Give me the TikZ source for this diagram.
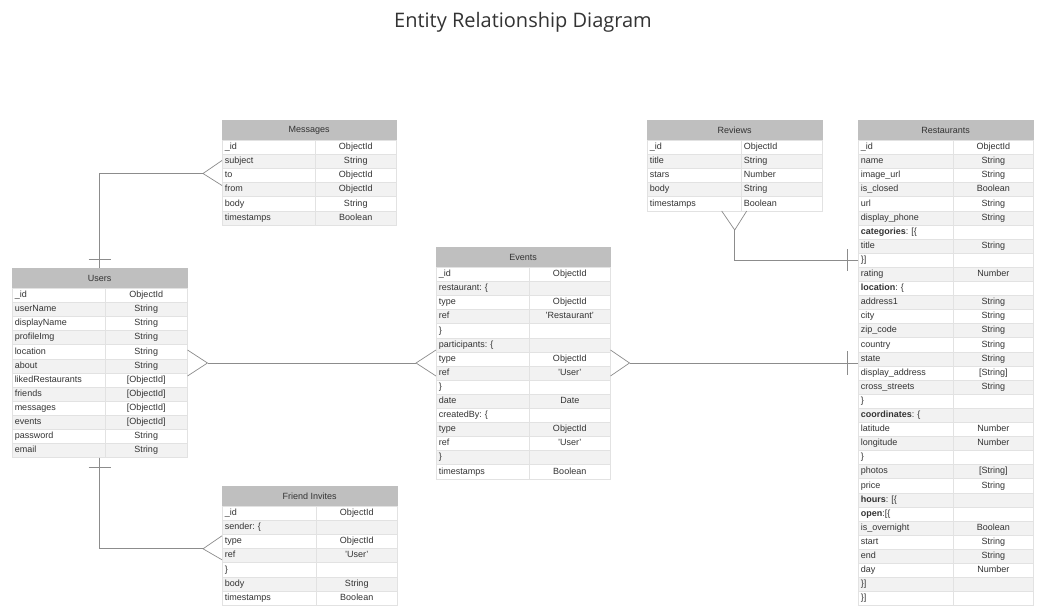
\documentclass[tikz,border=0pt]{standalone}
\usepackage{fontspec}
\setmainfont{Liberation Sans}
\newfontfamily\titlefont{Open Sans}
\usetikzlibrary{calc}
\frenchspacing
\definecolor{hdrgray}{HTML}{BFBFBF}
\definecolor{rowgray}{HTML}{F2F2F2}
\definecolor{cellline}{HTML}{E2E2E2}
\definecolor{txt}{HTML}{333333}
\definecolor{connc}{HTML}{8C8C8C}
\newcount\errow
\def\erH{14.1}
\tikzset{
 hdr/.style={fill=hdrgray, draw=hdrgray, minimum height=20pt, inner sep=0pt, font=\fontsize{9}{10}\selectfont, text=txt},
 cell/.style={draw=cellline, line width=0.5pt, minimum height=\erH pt, inner xsep=2.5pt, inner ysep=0pt, text height=6.6pt, text depth=1.9pt, font=\fontsize{9}{10}\selectfont, text=txt},
 conn/.style={draw=connc, line width=0.7pt},
}
\newcommand{\ertable}[6]{%
  \gdef\erN{#1}\gdef\erX{#2}\gdef\erY{#3}\gdef\erW{#4}\gdef\erC{#5}\global\errow=0
  \node[hdr, minimum width=#4pt, anchor=north west] (#1) at (#2,#3) {#6};}
\newcommand{\erow}[3][center]{%
  \global\advance\errow by 1
  \pgfmathsetmacro\erRY{\erY+20+(\the\errow-1)*\erH}
  \pgfmathsetmacro\erNW{\erC-5}
  \pgfmathsetmacro\erTW{\erW-\erC}
  \pgfmathsetmacro\erTT{\erW-\erC-5}
  \pgfmathsetmacro\erXX{\erX+\erC}
  \ifodd\errow\def\erF{white}\else\def\erF{rowgray}\fi
  \edef\erRN{\erN r\the\errow}\edef\erRT{\erN t\the\errow}
  \node[cell, fill=\erF, minimum width=\erC pt, text width=\erNW pt, align=left, anchor=north west] (\erRN) at (\erX,\erRY) {#2};
  \node[cell, fill=\erF, minimum width=\erTW pt, text width=\erTT pt, align=#1, anchor=north west] (\erRT) at (\erXX,\erRY) {#3};
}
\begin{document}
\begin{tikzpicture}[x=1pt,y=-1pt]
\fill[white] (0,0) rectangle (1046,615);
\useasboundingbox (0,0) rectangle (1046,615);
\node[font=\titlefont\fontsize{20}{24}\selectfont, text=txt] (title) at (523,22) {Entity Relationship Diagram};

% Messages
\ertable{msg}{222}{120}{174}{93}{Messages}
\erow{\_id}{ObjectId}
\erow{subject}{String}
\erow{to}{ObjectId}
\erow{from}{ObjectId}
\erow{body}{String}
\erow{timestamps}{Boolean}

% Users
\ertable{users}{12}{268}{175}{93}{Users}
\erow{\_id}{ObjectId}
\erow{userName}{String}
\erow{displayName}{String}
\erow{profileImg}{String}
\erow{location}{String}
\erow{about}{String}
\erow{likedRestaurants}{[ObjectId]}
\erow{friends}{[ObjectId]}
\erow{messages}{[ObjectId]}
\erow{events}{[ObjectId]}
\erow{password}{String}
\erow{email}{String}

% Events
\ertable{events}{436}{247}{174}{93}{Events}
\erow{\_id}{ObjectId}
\erow{restaurant: \{}{}
\erow{type}{ObjectId}
\erow{ref}{'Restaurant'}
\erow{\}}{}
\erow{participants: \{}{}
\erow{type}{ObjectId}
\erow{ref}{'User'}
\erow{\}}{}
\erow{date}{Date}
\erow{createdBy: \{}{}
\erow{type}{ObjectId}
\erow{ref}{'User'}
\erow{\}}{}
\erow{timestamps}{Boolean}

% Reviews
\ertable{reviews}{647}{120}{175}{94}{Reviews}
\erow[left]{\_id}{ObjectId}
\erow[left]{title}{String}
\erow[left]{stars}{Number}
\erow[left]{body}{String}
\erow[left]{timestamps}{Boolean}

% Restaurants
\ertable{rest}{858}{120}{175}{95}{Restaurants}
\erow{\_id}{ObjectId}
\erow{name}{String}
\erow{image\_url}{String}
\erow{is\_closed}{Boolean}
\erow{url}{String}
\erow{display\_phone}{String}
\erow{\textbf{categories}: [\{}{}
\erow{title}{String}
\erow{\}]}{}
\erow{rating}{Number}
\erow{\textbf{location}: \{}{}
\erow{address1}{String}
\erow{city}{String}
\erow{zip\_code}{String}
\erow{country}{String}
\erow{state}{String}
\erow{display\_address}{[String]}
\erow{cross\_streets}{String}
\erow{\}}{}
\erow{\textbf{coordinates}: \{}{}
\erow{latitude}{Number}
\erow{longitude}{Number}
\erow{\}}{}
\erow{photos}{[String]}
\erow{price}{String}
\erow{\textbf{hours}: [\{}{}
\erow{\textbf{open}:[\{}{}
\erow{is\_overnight}{Boolean}
\erow{start}{String}
\erow{end}{String}
\erow{day}{Number}
\erow{\}]}{}
\erow{\}]}{}

% Friend Invites
\ertable{fi}{222}{486}{175}{94}{Friend Invites}
\erow{\_id}{ObjectId}
\erow{sender: \{}{}
\erow{type}{ObjectId}
\erow{ref}{'User'}
\erow{\}}{}
\erow{body}{String}
\erow{timestamps}{Boolean}

% Users - Messages
\coordinate (mtip) at ($(msgr3.west)+(-19,-2)$);
\draw[conn] (users.north) |- (mtip);
\draw[conn] ($(msgr3.west)+(0,-15)$) -- (mtip) -- ($(msgr3.west)+(0,10)$);
\draw[conn] ($(users.north)+(-11,-9)$) -- ++(22,0);

% Users - Events
\coordinate (ue1) at (userst6.east |- 0,363);
\coordinate (uetip) at ($(ue1)+(20,0)$);
\coordinate (eu1) at (eventsr7.west |- 0,363);
\coordinate (eutip) at ($(eu1)+(-20,0)$);
\draw[conn] ($(ue1)+(0,-13)$) -- (uetip) -- ($(ue1)+(0,13)$);
\draw[conn] (uetip) -- (eutip);
\draw[conn] ($(eu1)+(0,-13)$) -- (eutip) -- ($(eu1)+(0,13)$);

% Events - Restaurants
\coordinate (er1) at (eventst7.east |- 0,363);
\coordinate (ertip) at ($(er1)+(19,0)$);
\coordinate (re1) at (restr17.west |- 0,363);
\draw[conn] ($(er1)+(0,-13)$) -- (ertip) -- ($(er1)+(0,13)$);
\draw[conn] (ertip) -- (re1);
\draw[conn] ($(re1)+(-11,-12)$) -- ++(0,24);

% Reviews - Restaurants
\coordinate (rvb) at (reviews.center |- reviewsr5.south);
\coordinate (rvtip) at ($(rvb)+(0,19)$);
\draw[conn] ($(rvb)+(-13,0)$) -- (rvtip) -- ($(rvb)+(12,0)$);
\draw[conn] (rvtip) |- (restr9.west);
\draw[conn] ($(restr9.west)+(-11,-11)$) -- ++(0,22);

% Users - Friend Invites
\coordinate (ub) at (users.center |- usersr12.south);
\coordinate (fi1) at (fir3.south west);
\coordinate (fitip) at ($(fi1)+(-19,0)$);
\draw[conn] (ub) |- (fitip);
\draw[conn] ($(fi1)+(0,-13)$) -- (fitip) -- ($(fi1)+(0,11)$);
\draw[conn] ($(ub)+(-11,10)$) -- ++(22,0);
\end{tikzpicture}
\end{document}
